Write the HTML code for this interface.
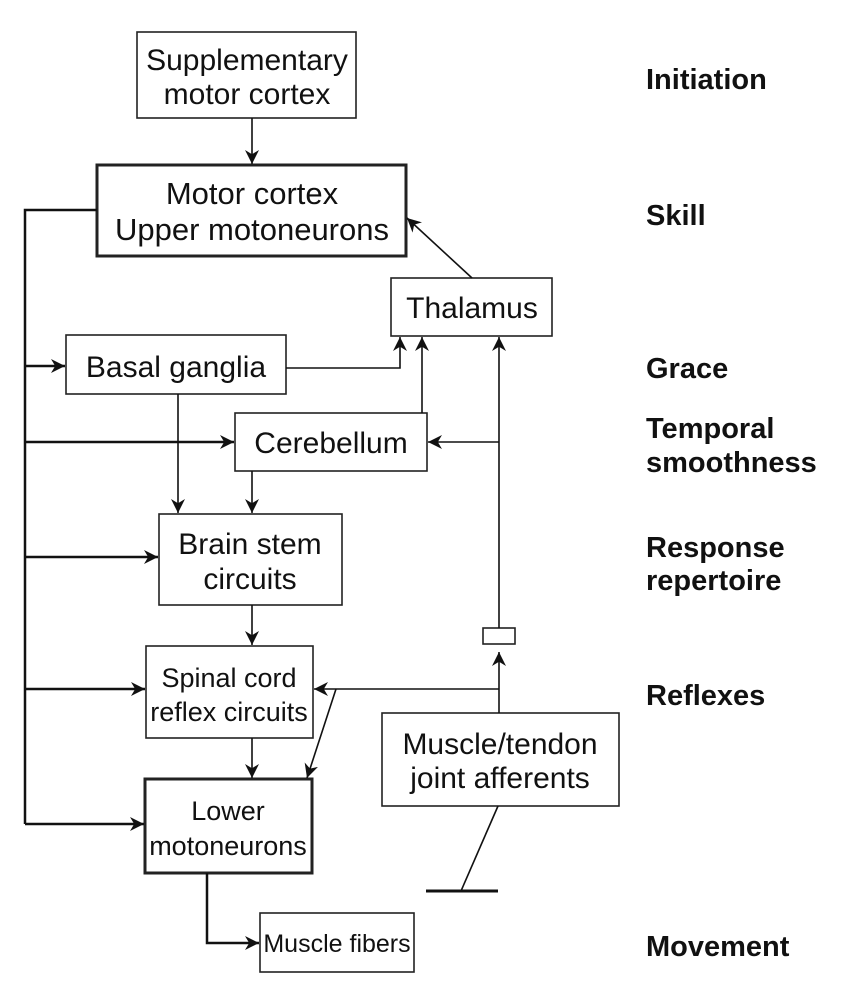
<!DOCTYPE html>
<html><head><meta charset="utf-8"><style>
html,body{margin:0;padding:0;background:#fff}
svg{display:block}
text{font-family:"Liberation Sans",sans-serif;fill:#111}
.b{font-size:30px;text-anchor:middle}
.s{font-size:27px}
.l{font-size:29px;font-weight:bold}
</style></head><body>
<svg width="853" height="1004" viewBox="0 0 853 1004" xmlns="http://www.w3.org/2000/svg">
<defs>
<marker id="a" viewBox="0 0 10 10" refX="10" refY="5" markerWidth="14" markerHeight="14" markerUnits="userSpaceOnUse" orient="auto">
<path d="M0,0 L10,5 L0,10 L3,5 Z" fill="#111"/></marker>
</defs>
<g fill="none" stroke="#222" stroke-width="1.6">
<rect x="137" y="32" width="219" height="86"/>
<rect x="97" y="165" width="309" height="91" stroke-width="3"/>
<rect x="391" y="278" width="161" height="58"/>
<rect x="66" y="335" width="220" height="59"/>
<rect x="235" y="413" width="192" height="58"/>
<rect x="159" y="514" width="183" height="91"/>
<rect x="146" y="646" width="167" height="92"/>
<rect x="145" y="779" width="167" height="94" stroke-width="3"/>
<rect x="260" y="913" width="154" height="59"/>
<rect x="382" y="713" width="237" height="93"/>
<rect x="483" y="628" width="32" height="16"/>
</g>
<g fill="none" stroke="#111" stroke-width="1.6">
<line x1="252" y1="118" x2="252" y2="164" marker-end="url(#a)"/>
<polyline points="97,210 25,210 25,824" stroke-width="2.5"/>
<line x1="25" y1="366" x2="65" y2="366" stroke-width="2.5" marker-end="url(#a)"/>
<line x1="25" y1="442" x2="234" y2="442" stroke-width="2.5" marker-end="url(#a)"/>
<line x1="25" y1="557" x2="158" y2="557" stroke-width="2.5" marker-end="url(#a)"/>
<line x1="25" y1="689" x2="145" y2="689" stroke-width="2.5" marker-end="url(#a)"/>
<line x1="25" y1="824" x2="144" y2="824" stroke-width="2.5" marker-end="url(#a)"/>
<polyline points="286,368 400,368 400,337" marker-end="url(#a)"/>
<line x1="422" y1="413" x2="422" y2="337" marker-end="url(#a)"/>
<line x1="499" y1="628" x2="499" y2="337" marker-end="url(#a)"/>
<line x1="499" y1="442" x2="428" y2="442" marker-end="url(#a)"/>
<line x1="472" y1="278" x2="407" y2="218" marker-end="url(#a)"/>
<line x1="178" y1="394" x2="178" y2="513" marker-end="url(#a)"/>
<line x1="252" y1="471" x2="252" y2="513" marker-end="url(#a)"/>
<line x1="252" y1="605" x2="252" y2="645" marker-end="url(#a)"/>
<line x1="252" y1="738" x2="252" y2="778" marker-end="url(#a)"/>
<polyline points="207,873 207,943 259,943" stroke-width="2.5" marker-end="url(#a)"/>
<line x1="499" y1="713" x2="499" y2="652" marker-end="url(#a)"/>
<line x1="499" y1="689" x2="314" y2="689" marker-end="url(#a)"/>
<line x1="336" y1="689" x2="307" y2="778" marker-end="url(#a)"/>
<line x1="498" y1="806" x2="461" y2="891"/>
<line x1="426" y1="891" x2="498" y2="891" stroke-width="3"/>
</g>
<text class="b" x="247" y="70">Supplementary</text>
<text class="b" x="247" y="104">motor cortex</text>
<text class="b" x="252" y="204" style="font-size:31px">Motor cortex</text>
<text class="b" x="252" y="240" style="font-size:31px">Upper motoneurons</text>
<text class="b" x="472" y="318">Thalamus</text>
<text class="b" x="176" y="377">Basal ganglia</text>
<text class="b" x="331" y="453">Cerebellum</text>
<text class="b" x="250" y="554">Brain stem</text>
<text class="b" x="250" y="589">circuits</text>
<text class="b s" x="229" y="687">Spinal cord</text>
<text class="b s" x="229" y="721">reflex circuits</text>
<text class="b s" x="228" y="820">Lower</text>
<text class="b s" x="228" y="855">motoneurons</text>
<text class="b" x="337" y="952" style="font-size:25px">Muscle fibers</text>
<text class="b" x="500" y="754">Muscle/tendon</text>
<text class="b" x="500" y="788">joint afferents</text>
<text class="l" x="646" y="89">Initiation</text>
<text class="l" x="646" y="225">Skill</text>
<text class="l" x="646" y="378">Grace</text>
<text class="l" x="646" y="438">Temporal</text>
<text class="l" x="646" y="472">smoothness</text>
<text class="l" x="646" y="557">Response</text>
<text class="l" x="646" y="590">repertoire</text>
<text class="l" x="646" y="705">Reflexes</text>
<text class="l" x="646" y="956">Movement</text>
</svg>
</body></html>
